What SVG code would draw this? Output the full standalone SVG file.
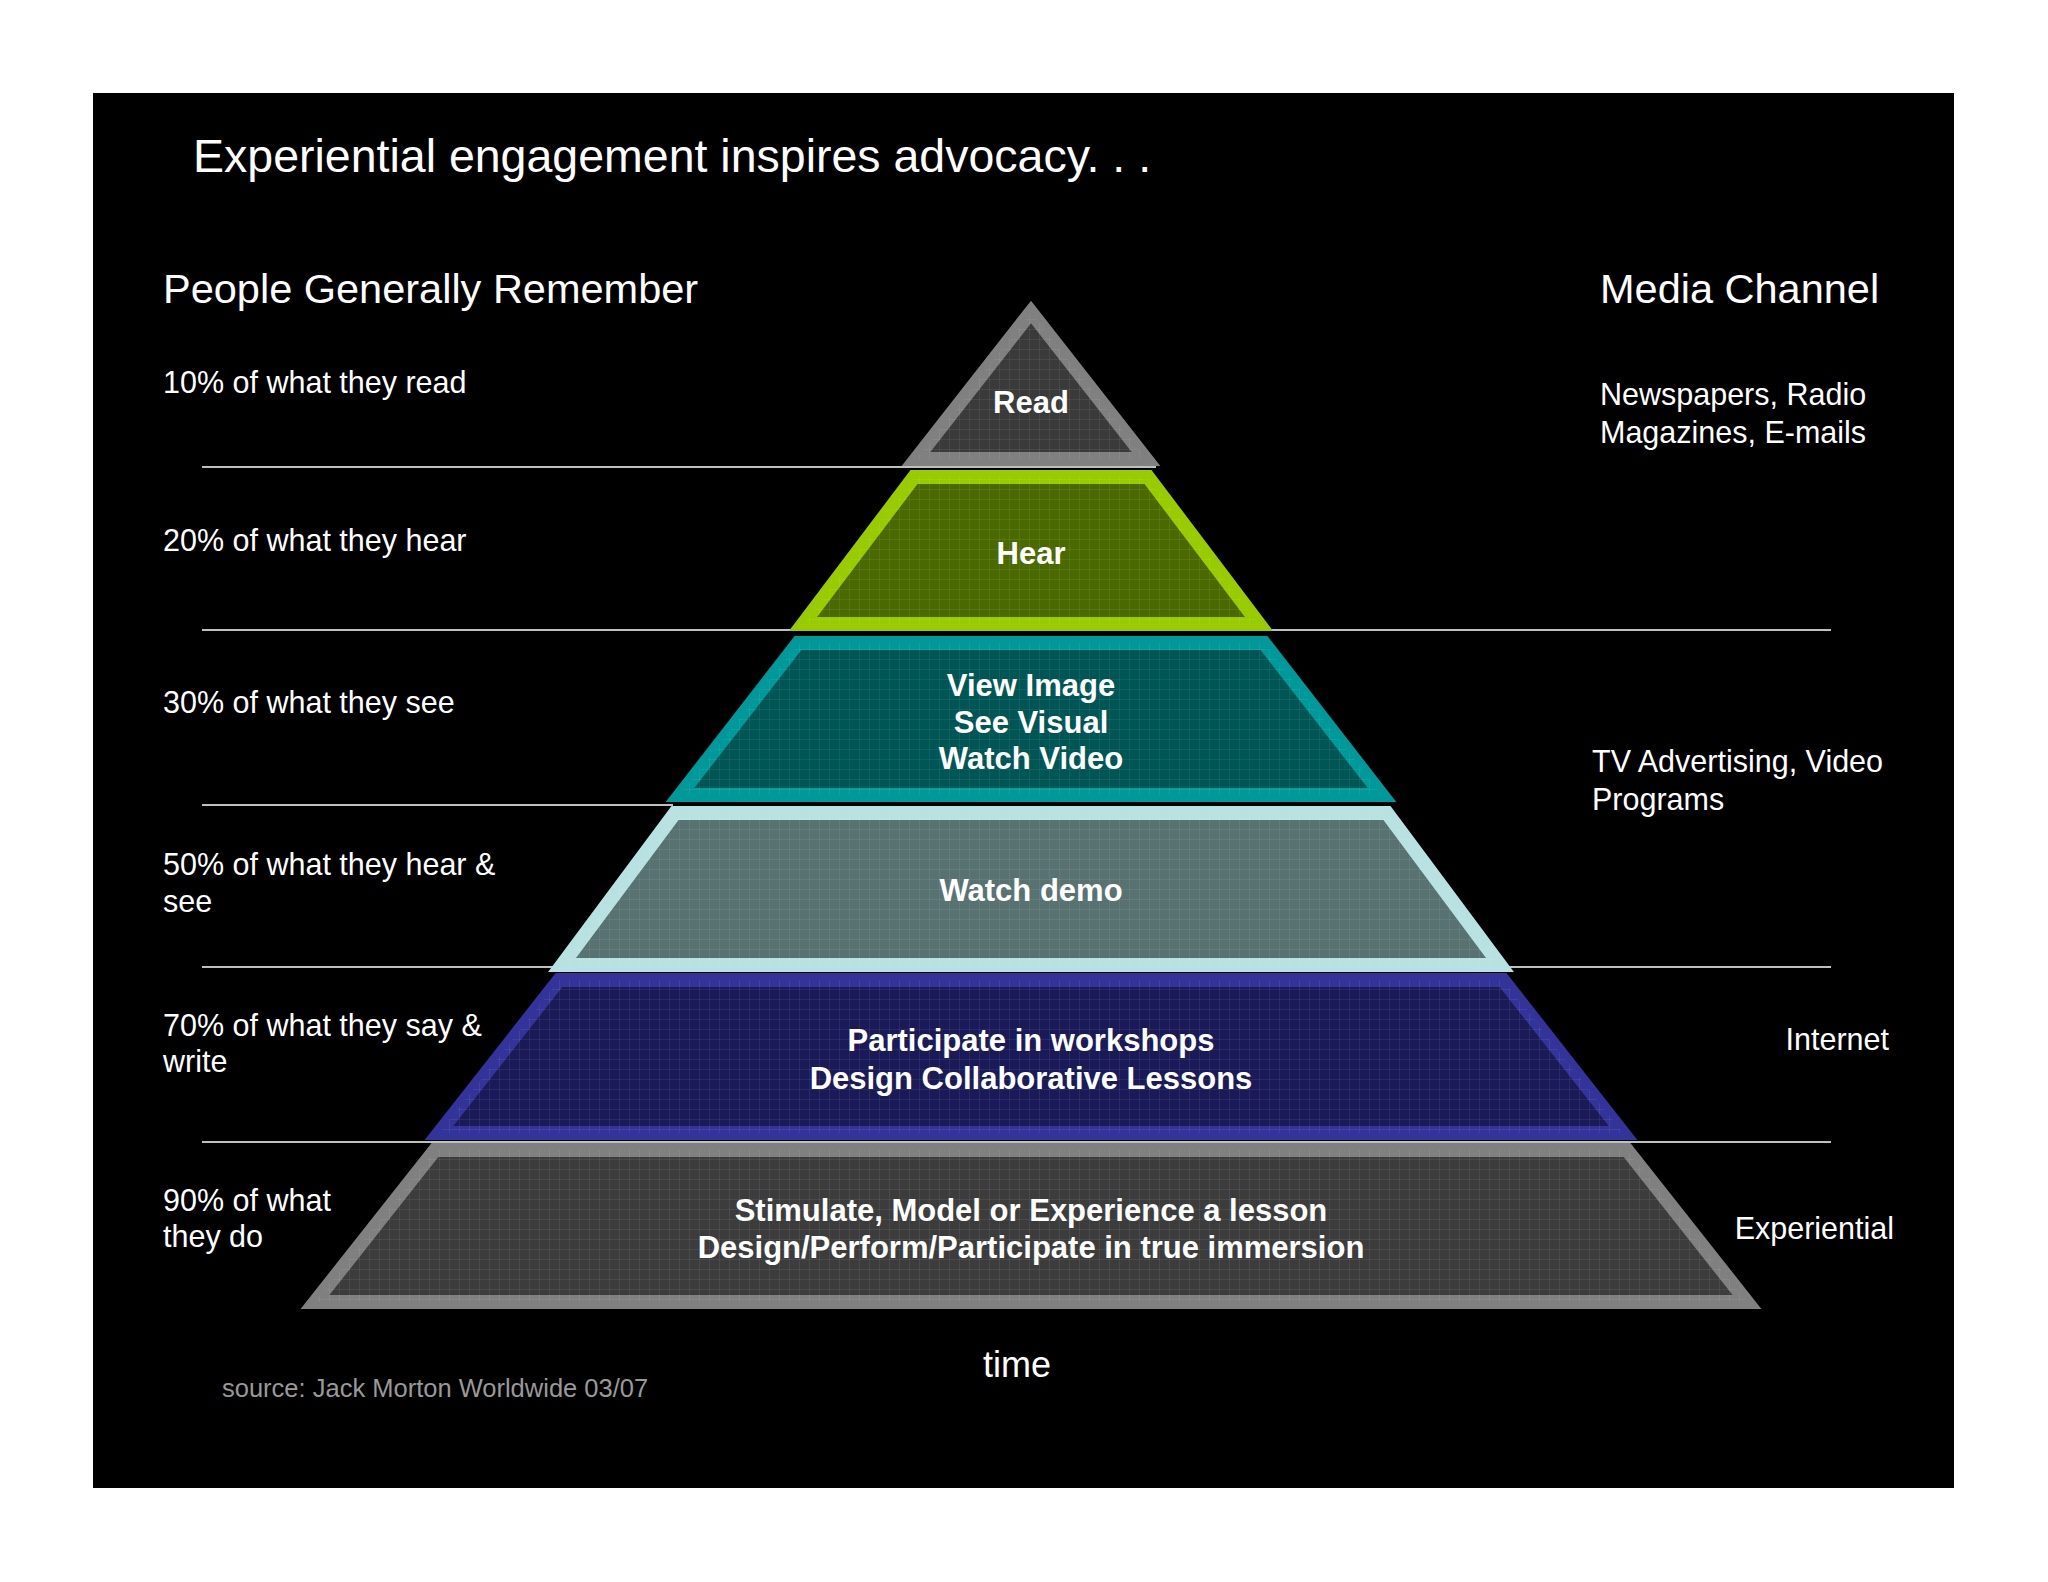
<svg xmlns="http://www.w3.org/2000/svg" width="2048" height="1582" viewBox="0 0 2048 1582">
<defs>
<pattern id="grid" width="10" height="10" patternUnits="userSpaceOnUse">
<path d="M10 0V10M0 10H10" fill="none" stroke="#ffffff" stroke-opacity="0.13" stroke-width="1"/>
</pattern>
<style>
text{font-family:"Liberation Sans",Arial,sans-serif;fill:#fff}
.l{font-size:30.5px}
.c{font-size:31px;font-weight:bold;text-anchor:middle}
.h{font-size:41.5px}
.t{stroke-width:14;stroke-linejoin:miter}
.g{fill:url(#grid)}
.ln{stroke:#fff;stroke-width:1.5}
</style>
</defs>
<rect width="2048" height="1582" fill="#fff"/>
<rect x="93" y="93" width="1861" height="1395" fill="#000"/>
<text x="193" y="172" style="font-size:46.5px">Experiential engagement inspires advocacy. . .</text>
<text class="h" x="163" y="303">People Generally Remember</text>
<text class="h" x="1600" y="303">Media Channel</text>
<g id="connectors">
<line class="ln" x1="202" y1="467" x2="1156" y2="467"/>
<line class="ln" x1="202" y1="630" x2="1831" y2="630"/>
<line class="ln" x1="202" y1="805" x2="673" y2="805"/>
<line class="ln" x1="202" y1="967" x2="1831" y2="967"/>
<line class="ln" x1="202" y1="1142" x2="1831" y2="1142"/>
</g>
<g id="tier-read">
<polygon class="t" points="1031,312 916,459 1146,459" fill="#3a3a3a" stroke="#808080"/>
<polygon points="1031,312 916,459 1146,459" class="g"/>
<text class="c" x="1031" y="413">Read</text>
</g>
<g id="tier-hear">
<polygon class="t" points="914,477 1148,477 1259,624 803,624" fill="#4a6a00" stroke="#99cc00"/>
<polygon points="914,477 1148,477 1259,624 803,624" class="g"/>
<text class="c" x="1031" y="564">Hear</text>
</g>
<g id="tier-view">
<polygon class="t" points="798,643 1264,643 1382,795 680,795" fill="#005555" stroke="#009999"/>
<polygon points="798,643 1264,643 1382,795 680,795" class="g"/>
<text class="c" x="1031" y="696">View Image</text>
<text class="c" x="1031" y="733">See Visual</text>
<text class="c" x="1031" y="769">Watch Video</text>
</g>
<g id="tier-watch">
<polygon class="t" points="675,813 1387,813 1500,965 562,965" fill="#587272" stroke="#b8e2e2"/>
<polygon points="675,813 1387,813 1500,965 562,965" class="g"/>
<text class="c" x="1031" y="901">Watch demo</text>
</g>
<g id="tier-participate">
<polygon class="t" points="559,980 1503,980 1623,1133 439,1133" fill="#1a1a58" stroke="#333399"/>
<polygon points="559,980 1503,980 1623,1133 439,1133" class="g"/>
<text class="c" x="1031" y="1051">Participate in workshops</text>
<text class="c" x="1031" y="1089">Design Collaborative Lessons</text>
</g>
<g id="tier-stimulate">
<polygon class="t" points="435,1150 1627,1150 1747,1302 315,1302" fill="#3c3c3c" stroke="#808080"/>
<polygon points="435,1150 1627,1150 1747,1302 315,1302" class="g"/>
<text class="c" x="1031" y="1221">Stimulate, Model or Experience a lesson</text>
<text class="c" x="1031" y="1258">Design/Perform/Participate in true immersion</text>
</g>
<g id="left-labels">
<text class="l" x="163" y="393">10% of what they read</text>
<text class="l" x="163" y="551">20% of what they hear</text>
<text class="l" x="163" y="713">30% of what they see</text>
<text class="l" x="163" y="875">50% of what they hear &amp;</text>
<text class="l" x="163" y="912">see</text>
<text class="l" x="163" y="1036">70% of what they say &amp;</text>
<text class="l" x="163" y="1072">write</text>
<text class="l" x="163" y="1211">90% of what</text>
<text class="l" x="163" y="1247">they do</text>
</g>
<g id="right-labels">
<text class="l" x="1600" y="405">Newspapers, Radio</text>
<text class="l" x="1600" y="443">Magazines, E-mails</text>
<text class="l" x="1592" y="772">TV Advertising, Video</text>
<text class="l" x="1592" y="810">Programs</text>
<text class="l" x="1889" y="1050" text-anchor="end">Internet</text>
<text class="l" x="1894" y="1239" text-anchor="end">Experiential</text>
</g>
<text x="1017" y="1377" style="font-size:36px;text-anchor:middle">time</text>
<text x="222" y="1397" style="font-size:25.5px;fill:#999">source: Jack Morton Worldwide 03/07</text>
</svg>
